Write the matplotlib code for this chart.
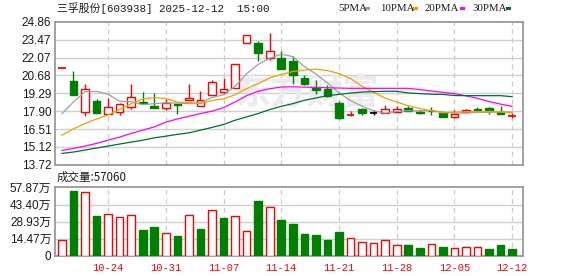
import matplotlib
matplotlib.use('Agg')
import matplotlib.pyplot as plt
from matplotlib.patches import Rectangle

# daily candles, 2025-10-20 .. 2025-12-12
opens = [21.27, 20.22, 17.87, 18.67, 17.69, 17.87, 18.23, 18.60, 18.28, 18.18,
         18.44, 18.77, 18.34, 19.19, 19.39, 19.73, 23.21, 23.18, 22.05, 22.07,
         21.77, 20.50, 19.73, 19.60, 18.52, 17.63, 18.05, 17.77, 17.80, 17.85,
         18.18, 17.84, 17.95, 17.77, 17.46, 17.84, 18.05, 18.13, 17.82, 17.50]
closes = [21.28, 19.16, 19.65, 17.77, 18.26, 18.49, 19.03, 18.52, 18.15, 18.57,
          18.38, 18.90, 18.80, 20.19, 19.65, 21.59, 23.85, 22.41, 22.59, 21.20,
          20.68, 19.99, 19.55, 19.06, 17.38, 17.65, 17.80, 17.77, 18.11, 18.11,
          17.90, 17.77, 17.90, 17.46, 17.69, 18.03, 17.97, 17.90, 17.69, 17.52]
highs = [21.28, 20.99, 19.99, 18.83, 18.90, 18.55, 19.99, 19.37, 19.29, 18.85,
         18.46, 19.99, 19.47, 20.35, 20.50, 21.59, 23.85, 23.39, 23.96, 22.56,
         22.23, 20.68, 20.30, 19.96, 18.67, 17.90, 18.15, 18.03, 18.36, 18.31,
         18.31, 18.03, 18.21, 17.80, 17.97, 18.11, 18.21, 18.24, 18.28, 17.77]
lows = [21.28, 19.16, 17.53, 17.77, 17.69, 17.61, 18.08, 18.44, 18.15, 18.03,
        17.69, 18.77, 18.34, 19.19, 19.27, 19.73, 23.21, 21.79, 21.90, 21.15,
        20.04, 19.91, 19.21, 19.00, 17.28, 17.53, 17.59, 17.59, 17.78, 17.83,
        17.88, 17.67, 17.64, 17.43, 17.38, 17.80, 17.92, 17.72, 17.67, 17.41]

ma5 = [17.72, 18.62, 19.42, 19.44, 19.22, 18.67, 18.64, 18.41, 18.49, 18.55,
       18.53, 18.50, 18.56, 18.97, 19.18, 19.83, 20.82, 21.54, 22.02, 22.33,
       22.15, 21.37, 20.80, 20.10, 19.33, 18.72, 18.29, 17.93, 17.74, 17.89,
       17.94, 17.93, 17.96, 17.83, 17.74, 17.77, 17.81, 17.81, 17.86, 17.82]
ma10 = [16.04, 16.53, 16.95, 17.30, 17.61, 18.03, 18.49, 18.85, 18.96, 18.89,
        18.60, 18.57, 18.49, 18.73, 18.87, 19.18, 19.66, 20.05, 20.49, 20.76,
        20.99, 21.10, 21.17, 21.06, 20.83, 20.44, 19.83, 19.37, 18.92, 18.61,
        18.33, 18.11, 17.94, 17.78, 17.82, 17.85, 17.87, 17.88, 17.84, 17.78]
ma20 = [14.85, 15.01, 15.19, 15.40, 15.65, 15.89, 16.17, 16.43, 16.68, 17.05,
        17.30, 17.51, 17.72, 17.90, 18.18, 18.62, 19.11, 19.45, 19.65, 19.78,
        19.80, 19.77, 19.75, 19.73, 19.70, 19.68, 19.68, 19.68, 19.68, 19.68,
        19.68, 19.58, 19.47, 19.37, 19.27, 19.10, 18.90, 18.65, 18.45, 18.28]
ma30 = [14.62, 14.73, 14.88, 15.04, 15.19, 15.35, 15.50, 15.65, 15.83, 15.96,
        16.10, 16.22, 16.43, 16.64, 16.87, 17.20, 17.46, 17.72, 18.03, 18.28,
        18.49, 18.75, 18.93, 19.11, 19.21, 19.31, 19.39, 19.42, 19.45, 19.45,
        19.32, 19.27, 19.22, 19.21, 19.12, 19.11, 19.11, 19.11, 19.11, 19.03]

# volume in 万 lots, colour by close vs previous close
volumes = [13.2, 54.5, 54.3, 33.5, 35.8, 32.7, 35.0, 21.8, 24.3, 19.0,
           16.8, 35.0, 22.6, 38.6, 31.9, 34.1, 21.5, 46.1, 41.7, 30.2,
           26.8, 18.5, 17.6, 13.4, 20.1, 15.1, 11.7, 10.9, 13.1, 9.2,
           9.2, 6.7, 9.8, 7.5, 6.4, 7.5, 7.5, 5.9, 9.2, 5.7]
vol_up = [1, 0, 1, 0, 1, 1, 1, 0, 0, 1,
          0, 1, 0, 1, 0, 1, 1, 0, 1, 0,
          0, 0, 0, 0, 0, 1, 1, 1, 1, 1,
          0, 0, 1, 0, 1, 1, 1, 0, 0, 0]

price_ticks = [13.72, 15.12, 16.51, 17.90, 19.29, 20.68, 22.07, 23.47, 24.86]
vol_ticks = [0, 14.47, 28.93, 43.40, 57.87]
vol_labels = ['0', '14.47万', '28.93万', '43.40万', '57.87万']
date_pos = [4, 9, 14, 19, 24, 29, 34, 39]
date_labels = ['10-24', '10-31', '11-07', '11-14', '11-21', '11-28', '12-05', '12-12']

RED = '#ff0000'
GREEN = '#008000'
W = 0.66

fig = plt.figure(figsize=(5.78, 2.76), dpi=100)
ax = fig.add_axes([0.096, 0.4022, 0.808, 0.5192])
ax2 = fig.add_axes([0.096, 0.0725, 0.808, 0.2482])

x = list(range(len(closes)))

for a in (ax, ax2):
    a.set_xlim(-0.56, 39.9)
    for s in a.spines.values():
        s.set_color('#9a9a9a')
        s.set_linewidth(1.3)
    a.tick_params(length=0, pad=3, labelsize=8.5, labelcolor='#1a1a1a')
    for p in date_pos:
        a.axvline(p, color='#cccccc', lw=0.9, ls=(0, (4, 3)), zorder=0)

# price panel
ax.set_ylim(13.72, 24.86)
ax.set_yticks(price_ticks)
ax.set_yticklabels(['%.2f' % t for t in price_ticks], family='Liberation Sans')
ax.set_xticks([])
for t in price_ticks[1:-1]:
    ax.axhline(t, color='#d0d0d0', lw=1, zorder=0)

ax.text(0.54, 0.5, '东方财富', transform=ax.transAxes, ha='center', va='center',
        fontsize=26, color='#ebebef', family='Noto Sans CJK SC', weight='bold', zorder=0.5)

for i in x:
    o, c, h, l = opens[i], closes[i], highs[i], lows[i]
    if abs(c - o) < 0.04:
        col = 'black' if c == o else (RED if c > o else GREEN)
        ax.vlines(i, l, h, color=col, lw=1, zorder=3)
        ax.hlines((o + c) / 2, i - W / 2, i + W / 2, color=col, lw=1.3, zorder=3)
    elif c > o:
        ax.vlines(i, c, h, color=RED, lw=1, zorder=3)
        ax.vlines(i, l, o, color=RED, lw=1, zorder=3)
        ax.bar(i, c - o, bottom=o, width=W, facecolor='white', edgecolor=RED, lw=1, zorder=3)
    else:
        ax.vlines(i, l, h, color=GREEN, lw=1, zorder=3)
        ax.bar(i, o - c, bottom=c, width=W, facecolor=GREEN, edgecolor=GREEN, lw=1, zorder=3)

ax.plot(x, ma5, color='#a0a0a0', lw=0.9, zorder=4)
ax.plot(x, ma10, color='#f0a000', lw=0.9, zorder=4)
ax.plot(x, ma20, color='#ff00ff', lw=0.9, zorder=4)
ax.plot(x, ma30, color='#006f2d', lw=0.9, zorder=4)

# volume panel
ax2.set_ylim(0, 57.87)
ax2.set_yticks(vol_ticks)
ax2.set_yticklabels(vol_labels, family=['Liberation Sans', 'Noto Sans CJK SC'])
for t in vol_ticks[1:-1]:
    ax2.axhline(t, color='#d0d0d0', lw=1, zorder=0)
ax2.bar(x, volumes, width=W,
        facecolor=['white' if u else GREEN for u in vol_up],
        edgecolor=[RED if u else GREEN for u in vol_up], lw=1, zorder=3)
ax2.set_xticks(date_pos)
ax2.set_xticklabels(date_labels, color=RED, fontsize=7.5, family='Liberation Mono')
ax2.tick_params(axis='x', pad=5)

# header texts
fig.text(57 / 578, 1 - 8.5 / 276, '三孚股份[603938] 2025-12-12  15:00', ha='left', va='center',
         fontsize=7.8, family=['Liberation Mono', 'Noto Sans CJK SC'], color='#1a1a1a')
fig.text(57 / 578, 1 - 177.5 / 276, '成交量:57060', ha='left', va='center',
         fontsize=8.3, family=['Noto Sans CJK SC', 'DejaVu Sans'], color='#1a1a1a')

legend = [('5PMA', 338, 365, '#a0a0a0'), ('10PMA', 380, 413, '#f0a000'),
          ('20PMA', 425, 460, '#ff00ff'), ('30PMA', 472, 506, '#006f2d')]
for name, tx, sx, col in legend:
    fig.text(tx / 578, 1 - 8.5 / 276, name, ha='left', va='center', fontsize=7.8,
             family='Liberation Serif', color='#1a1a1a')
    fig.patches.append(Rectangle((sx / 578, 1 - 10 / 276), 5 / 578, 3 / 276,
                                 transform=fig.transFigure, facecolor=col, edgecolor='none'))

plt.savefig('out.png', dpi=100)
plt.close()
